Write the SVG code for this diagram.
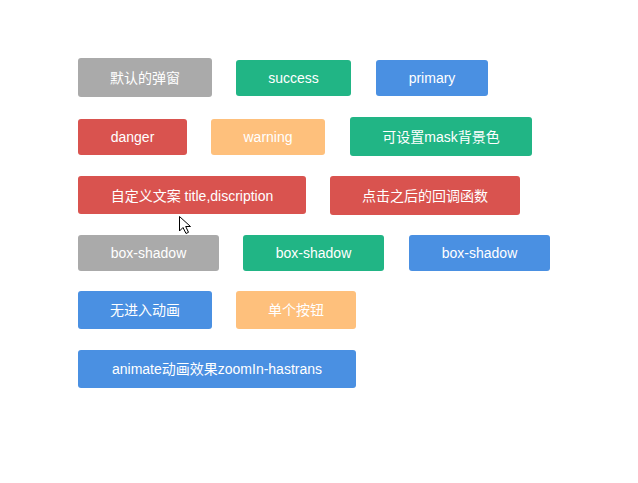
<svg xmlns="http://www.w3.org/2000/svg" width="638" height="483" viewBox="0 0 638 483">
<style>
.b{stroke:none}
.gray{fill:#aaaaaa}
.green{fill:#21b585}
.blue{fill:#4a90e2}
.red{fill:#d9534f}
.orange{fill:#fec07c}
text{font-family:"Liberation Sans","Noto Sans CJK SC",sans-serif;font-size:14px;fill:#ffffff;text-anchor:middle}
</style>
<rect width="638" height="483" fill="#ffffff"/>
<g id="btn-default"><rect class="b gray" x="78" y="58" width="134" height="39" rx="3"/><text x="145" y="82.5">默认的弹窗</text></g>
<g id="btn-success"><rect class="b green" x="236" y="60" width="115" height="36" rx="3"/><text x="293.5" y="83">success</text></g>
<g id="btn-primary"><rect class="b blue" x="376" y="60" width="112" height="36" rx="3"/><text x="432" y="83">primary</text></g>
<g id="btn-danger"><rect class="b red" x="78" y="119" width="109" height="36" rx="3"/><text x="132.5" y="142">danger</text></g>
<g id="btn-warning"><rect class="b orange" x="211" y="119" width="114" height="36" rx="3"/><text x="268" y="142">warning</text></g>
<g id="btn-mask"><rect class="b green" x="350" y="117" width="182" height="39" rx="3"/><text x="441" y="141.5">可设置mask背景色</text></g>
<g id="btn-custom"><rect class="b red" x="78" y="176" width="228" height="38" rx="3"/><text x="192" y="200.5">自定义文案 title,discription</text></g>
<g id="btn-callback"><rect class="b red" x="330" y="176" width="190" height="39" rx="3"/><text x="425" y="200.5">点击之后的回调函数</text></g>
<g id="btn-shadow-gray"><rect class="b gray" x="78" y="235" width="141" height="36" rx="3"/><text x="148.5" y="258">box-shadow</text></g>
<g id="btn-shadow-green"><rect class="b green" x="243" y="235" width="141" height="36" rx="3"/><text x="313.5" y="258">box-shadow</text></g>
<g id="btn-shadow-blue"><rect class="b blue" x="409" y="235" width="141" height="36" rx="3"/><text x="479.5" y="258">box-shadow</text></g>
<g id="btn-noanim"><rect class="b blue" x="78" y="291" width="134" height="38" rx="3"/><text x="145" y="315">无进入动画</text></g>
<g id="btn-single"><rect class="b orange" x="236" y="291" width="120" height="38" rx="3"/><text x="296" y="315">单个按钮</text></g>
<g id="btn-animate"><rect class="b blue" x="78" y="350" width="278" height="38" rx="3"/><text x="217" y="374">animate动画效果zoomIn-hastrans</text></g>
<g id="connectors"></g>
<g id="cursor"><path d="M179.5,216.5 L179.5,231 L183,227.5 L186,233.5 L188.5,232.3 L185.7,226.5 L190.5,226.5 Z" fill="#ffffff" stroke="#000000" stroke-width="1" stroke-linejoin="miter"/></g>
</svg>
